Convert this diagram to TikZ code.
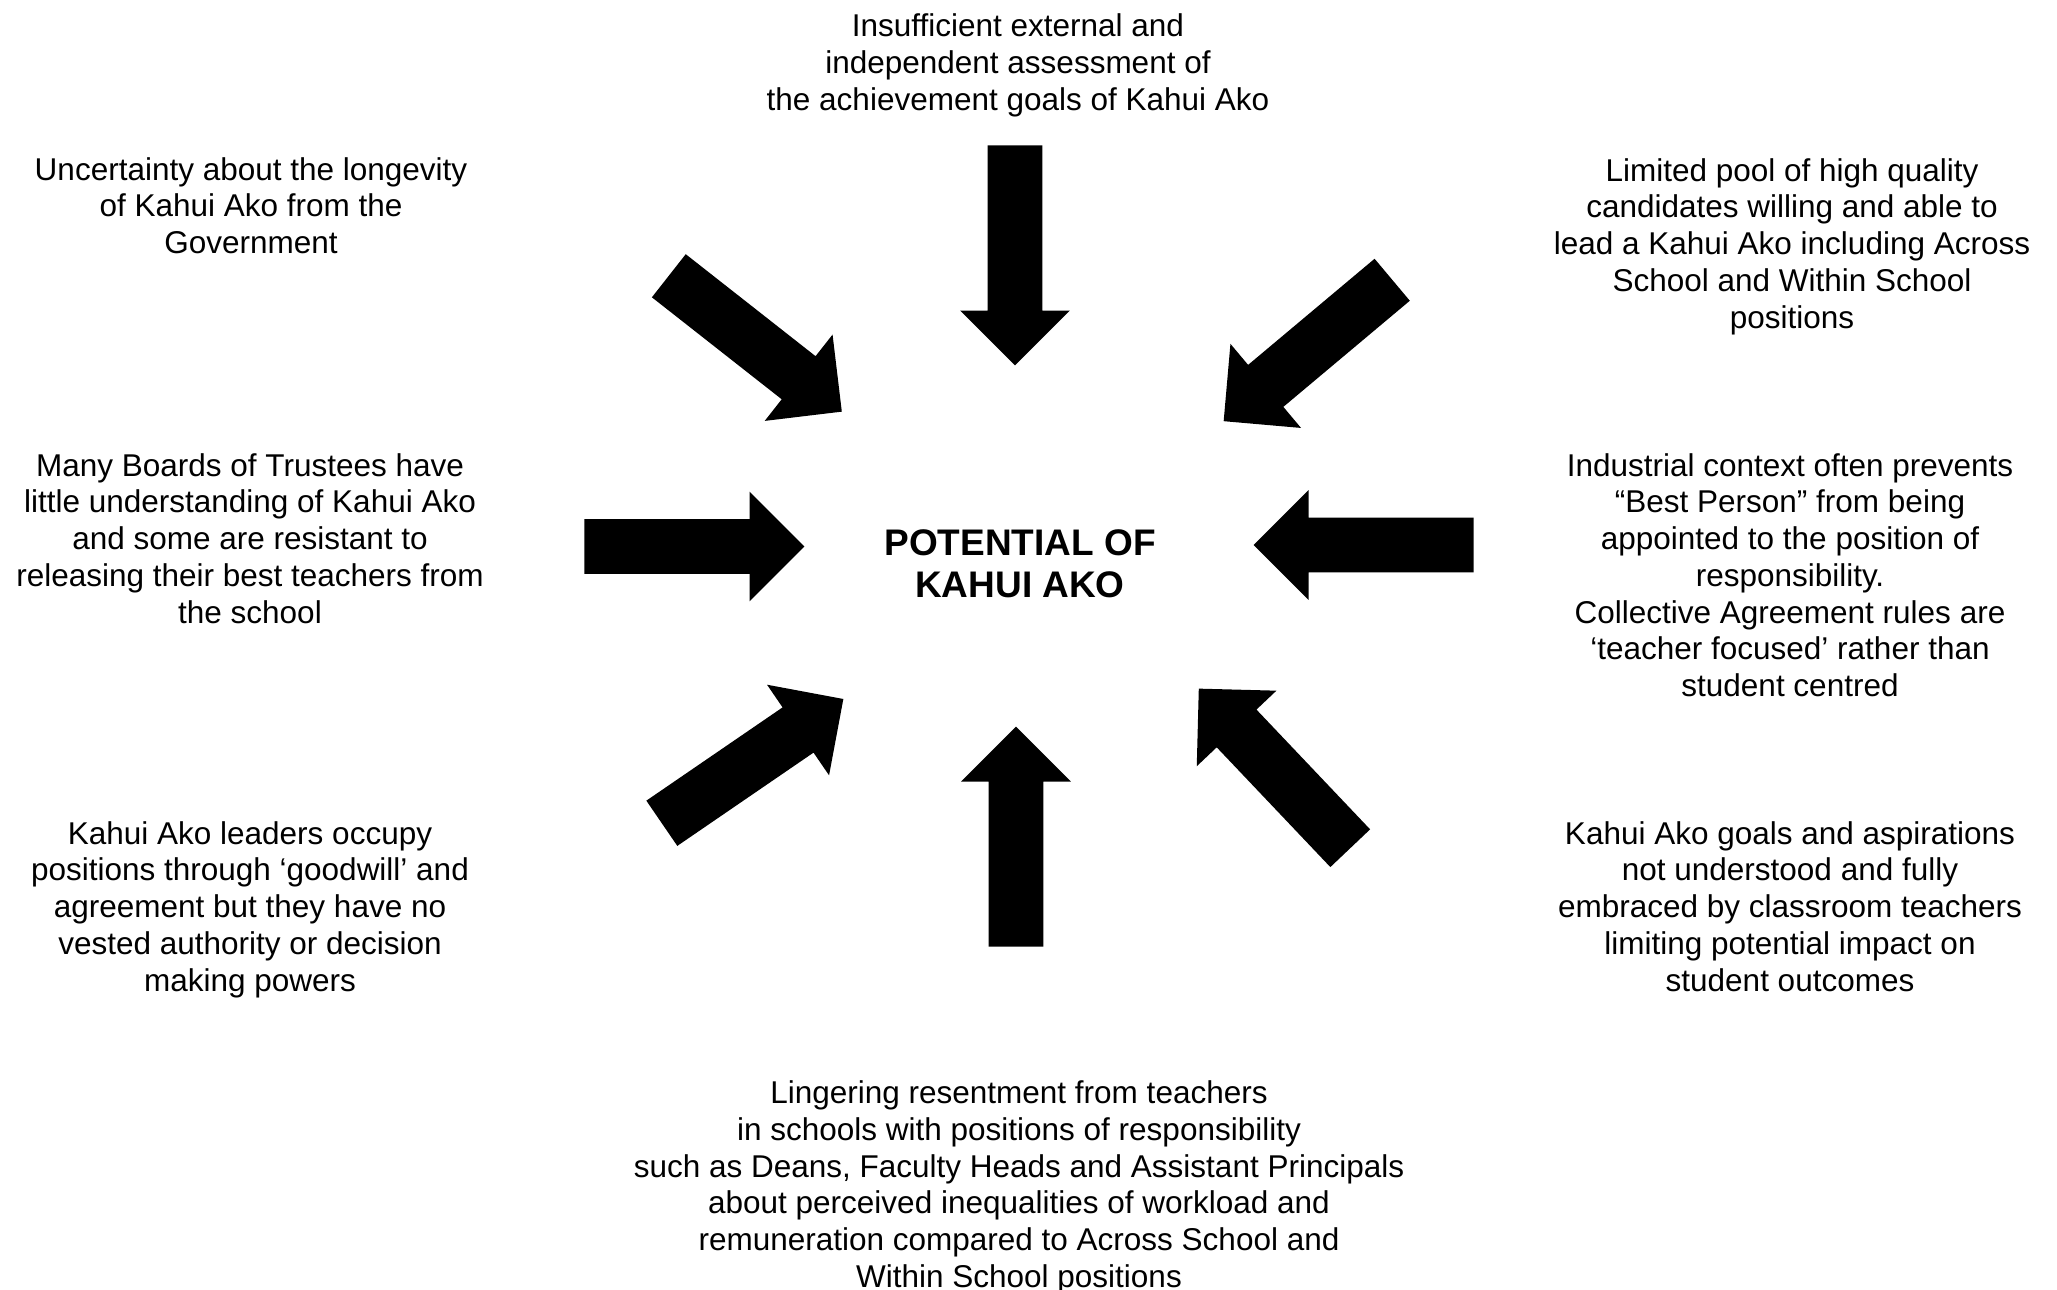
\documentclass[tikz,border=0pt]{standalone}
\usepackage{fontspec}
\setmainfont{Liberation Sans}
\usetikzlibrary{shapes.arrows}

\begin{document}
\begin{tikzpicture}[x=0.5pt, y=-0.5pt,
  bigArrow/.style={single arrow, fill=black, draw=none, inner xsep=0pt, inner ysep=13.5pt, minimum height=110pt, single arrow head extend=13.75pt, anchor=tail},
  causeText/.style={align=center, anchor=north, inner sep=0pt, font=\fontsize{15.75}{18.35}\selectfont}]
\useasboundingbox (0,0) rectangle (2057,1290);
\node[align=center, anchor=north, inner sep=0pt, font=\bfseries\fontsize{18.5}{21}\selectfont] (potential) at (1020, 529.5) {POTENTIAL OF\\KAHUI AKO};
% Factors round the centre, clockwise from the top
\node[causeText] (top) at (1018, 13.4) {Insufficient external and\\independent assessment of\\the achievement goals of Kahui Ako};
\node[causeText] (topRight) at (1792, 158) {Limited pool of high quality\\candidates willing and able to\\lead a Kahui Ako including Across\\School and Within School\\positions};
\node[causeText] (right) at (1790, 453) {Industrial context often prevents\\“Best Person” from being\\appointed to the position of\\responsibility.\\Collective Agreement rules are\\‘teacher focused’ rather than\\student centred};
\node[causeText] (bottomRight) at (1790, 821) {Kahui Ako goals and aspirations\\not understood and fully\\embraced by classroom teachers\\limiting potential impact on\\student outcomes};
\node[causeText] (bottom) at (1019, 1080.5) {Lingering resentment from teachers\\in schools with positions of responsibility\\such as Deans, Faculty Heads and Assistant Principals\\about perceived inequalities of workload and\\remuneration compared to Across School and\\Within School positions};
\node[causeText] (bottomLeft) at (250, 821) {Kahui Ako leaders occupy\\positions through ‘goodwill’ and\\agreement but they have no\\vested authority or decision\\making powers};
\node[causeText] (left) at (250, 453) {Many Boards of Trustees have\\little understanding of Kahui Ako\\and some are resistant to\\releasing their best teachers from\\the school};
\node[causeText] (topLeft) at (251, 157) {Uncertainty about the longevity\\of Kahui Ako from the\\Government};
% Block arrows pointing in to the centre, placed by their tails
\node[bigArrow, rotate=-90] (arrowTop) at (1015, 145) {};
\node[bigArrow, rotate=-140] (arrowTopRight) at (1392.5, 279.5) {};
\node[bigArrow, rotate=180] (arrowRight) at (1474, 545) {};
\node[bigArrow, rotate=133.5] (arrowBottomRight) at (1350.5, 848.5) {};
\node[bigArrow, rotate=90] (arrowBottom) at (1016, 947) {};
\node[bigArrow, rotate=34.4] (arrowBottomLeft) at (661.5, 823.5) {};
\node[bigArrow] (arrowLeft) at (584, 546.5) {};
\node[bigArrow, rotate=-38.15] (arrowTopLeft) at (668.5, 275.5) {};
\end{tikzpicture}
\end{document}
